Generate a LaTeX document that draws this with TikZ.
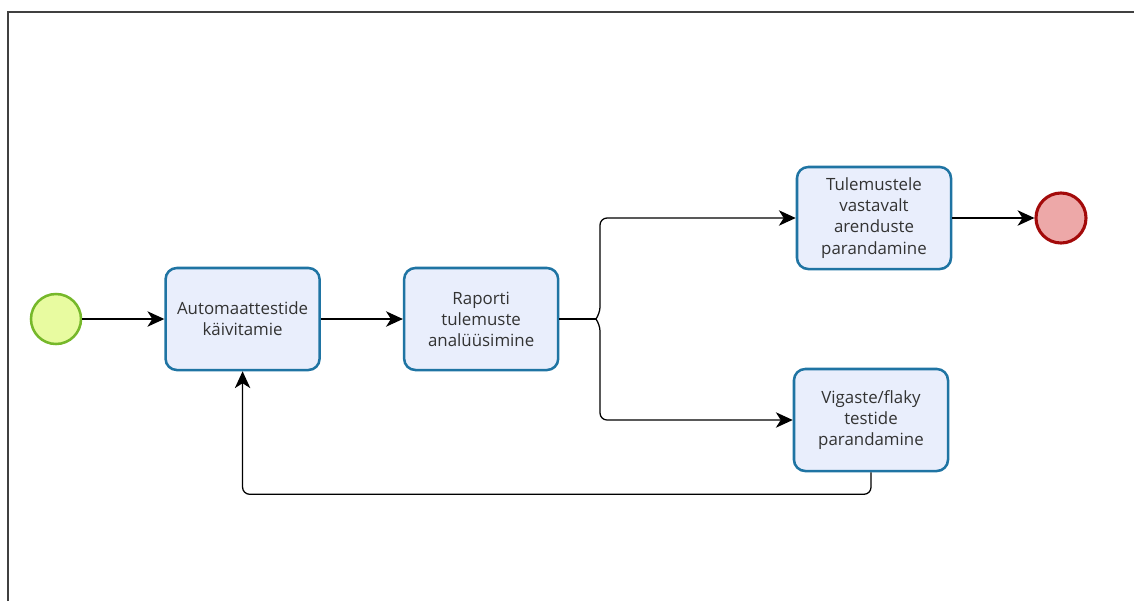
\documentclass[tikz,border=0pt]{standalone}
\usepackage{fontspec}
\setmainfont{Open Sans}
\usepackage{xcolor}
\usetikzlibrary{arrows.meta,positioning}

\definecolor{taskfill}{HTML}{E9EEFC}
\definecolor{taskline}{HTML}{1F74A3}
\definecolor{startfill}{HTML}{E8FBA0}
\definecolor{startline}{HTML}{76B82A}
\definecolor{endfill}{HTML}{EDA8A8}
\definecolor{endline}{HTML}{A30A0A}
\definecolor{textgray}{HTML}{333333}

\begin{document}
\begin{tikzpicture}[
    x=0.025cm, y=-0.025cm,
    node distance=2.05cm,
    task/.style={rectangle, rounded corners=8pt, draw=taskline, fill=taskfill, line width=1.8pt,
        minimum width=3.85cm, minimum height=2.55cm, align=center, text=textgray,
        font=\fontsize{12}{15}\selectfont},
    startev/.style={circle, draw=startline, fill=startfill, line width=1.8pt, minimum size=1.25cm, inner sep=0pt},
    endev/.style={circle, draw=endline, fill=endfill, line width=2.2pt, minimum size=1.25cm, inner sep=0pt},
    arrow/.style={-{Stealth[length=12pt,width=11pt,inset=3.5pt]}, line width=0.9pt},
    flow/.style={line width=0.9pt}
]
    \useasboundingbox (0,0) rectangle (1134,601);
    \draw[line width=1.5pt, black!75] (8,601) -- (8,12) -- (1134,12);

    \node[startev] (start) at (56,319) {};
    \node[task, right=of start] (auto) {Automaattestide\\käivitamie};
    \node[task, right=of auto] (raport) {Raporti\\tulemuste\\analüüsimine};
    \node[task] (tulem) at (874,218) {Tulemustele\\vastavalt\\arenduste\\parandamine};
    \node[task] (vigaste) at (871,420) {Vigaste/flaky\\testide\\parandamine};
    \node[endev] (end) at (1061,218) {};
    \coordinate (split) at (596,319);

    \draw[arrow] (start) -- (auto);
    \draw[arrow] (auto) -- (raport);
    \draw[flow] (raport) -- (split);
    \draw[arrow, rounded corners=5pt] (split) -- (600,314) |- (tulem);
    \draw[arrow, rounded corners=5pt] (split) -- (600,324) |- (vigaste);
    \draw[arrow] (tulem) -- (end);
    \draw[arrow, rounded corners=5pt] (vigaste.south) -- ++(0,22) -| (auto.south);
\end{tikzpicture}
\end{document}
